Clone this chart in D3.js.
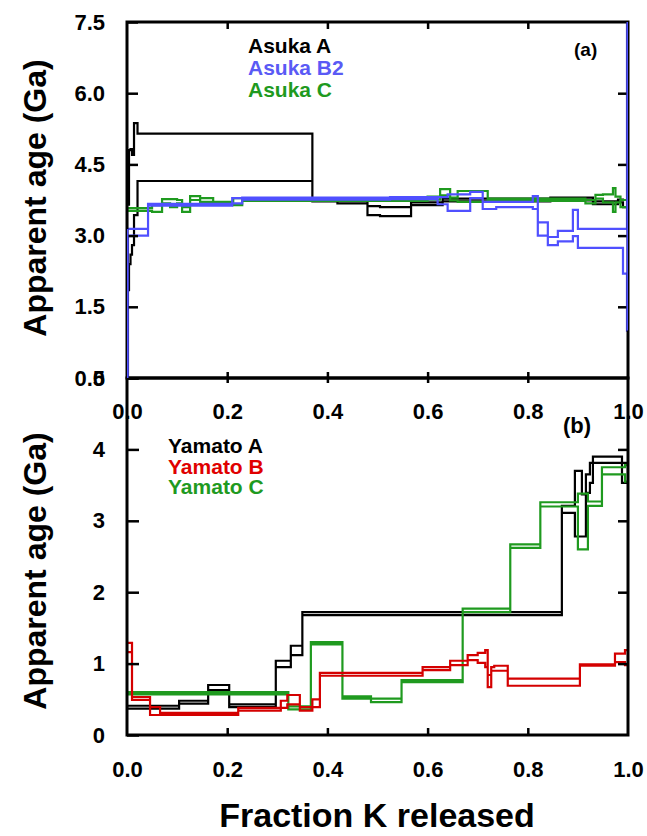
<!DOCTYPE html>
<html>
<head>
<meta charset="utf-8">
<script src="https://cdn.jsdelivr.net/npm/d3@7"></script>
<style>
  body { margin: 0; background: #fff; }
  svg { display: block; font-family: "Liberation Sans", Arial, sans-serif; font-weight: bold; }
</style>
</head>
<body>
<svg width="647" height="836"></svg>
<script>
// Each step: [fraction from, fraction to, age low (Ga), age high (Ga)]
const asukaA = [
  [0, 0.004, 1.85, 3.65], [0.004, 0.007, 2.4, 4.8], [0.007, 0.010, 2.6, 4.82],
  [0.010, 0.014, 2.8, 4.7], [0.014, 0.021, 3.43, 5.37],
  [0.021, 0.37, 4.15, 5.15], [0.37, 0.42, 3.72, 3.77], [0.42, 0.48, 3.68, 3.73],
  [0.48, 0.505, 3.43, 3.62], [0.505, 0.567, 3.41, 3.60], [0.567, 0.63, 3.64, 3.70],
  [0.63, 0.845, 3.72, 3.78], [0.845, 0.93, 3.74, 3.80], [0.93, 0.98, 3.66, 3.72],
  [0.98, 0.99, 3.70, 3.76], [0.99, 1.0, 3.60, 3.75]
];
const asukaB2 = [
  [0, 0.002, -0.5, 3.14], [0.002, 0.042, 3.00, 3.14], [0.042, 0.21, 3.63, 3.67],
  [0.21, 0.23, 3.68, 3.79], [0.23, 0.525, 3.76, 3.80], [0.525, 0.62, 3.77, 3.81],
  [0.62, 0.64, 3.66, 3.81], [0.64, 0.685, 3.52, 3.87], [0.685, 0.71, 3.79, 3.92],
  [0.71, 0.737, 3.56, 3.71], [0.737, 0.81, 3.60, 3.71], [0.81, 0.82, 3.56, 3.83],
  [0.82, 0.84, 3.00, 3.28], [0.84, 0.86, 2.80, 2.97], [0.86, 0.89, 2.88, 3.10],
  [0.89, 0.90, 2.99, 3.54], [0.90, 0.99, 2.74, 3.14], [0.99, 0.998, 2.20, 3.14],
  [0.998, 1.0, 1.00, 9.0]
];
const asukaC = [
  [0, 0.05, 3.52, 3.58], [0.05, 0.07, 3.50, 3.64], [0.07, 0.086, 3.68, 3.77],
  [0.086, 0.10, 3.60, 3.77], [0.10, 0.11, 3.68, 3.75], [0.11, 0.126, 3.50, 3.60],
  [0.126, 0.146, 3.75, 3.83], [0.146, 0.172, 3.71, 3.79], [0.172, 0.212, 3.66, 3.71],
  [0.212, 0.23, 3.64, 3.79], [0.23, 0.6, 3.73, 3.78], [0.6, 0.625, 3.76, 3.82],
  [0.625, 0.645, 3.85, 3.98], [0.645, 0.66, 3.74, 3.80], [0.66, 0.72, 3.71, 3.94],
  [0.72, 0.915, 3.73, 3.78], [0.915, 0.935, 3.68, 3.75], [0.935, 0.95, 3.78, 3.86],
  [0.95, 0.97, 3.70, 3.87], [0.97, 0.975, 3.50, 4.00], [0.975, 0.985, 3.70, 3.82],
  [0.985, 1.0, 3.60, 3.75]
];

const yamatoA = [
  [0, 0.104, 0.37, 0.41], [0.104, 0.162, 0.44, 0.48], [0.162, 0.204, 0.63, 0.70],
  [0.204, 0.297, 0.39, 0.43], [0.297, 0.327, 0.95, 1.04], [0.327, 0.35, 1.12, 1.25],
  [0.35, 0.868, 1.68, 1.72], [0.868, 0.894, 3.11, 3.21], [0.894, 0.908, 2.78, 3.70],
  [0.908, 0.916, 2.78, 3.37], [0.916, 0.924, 3.39, 3.65], [0.924, 0.93, 3.53, 3.81],
  [0.93, 0.988, 3.81, 3.90], [0.988, 1.0, 3.53, 3.81]
];
const yamatoB = [
  [0, 0.01, 1.16, 1.29], [0.01, 0.046, 0.49, 0.53], [0.046, 0.066, 0.28, 0.39],
  [0.066, 0.222, 0.28, 0.31], [0.222, 0.307, 0.34, 0.38], [0.307, 0.32, 0.38, 0.48],
  [0.32, 0.345, 0.43, 0.56], [0.345, 0.37, 0.34, 0.39], [0.37, 0.385, 0.39, 0.50],
  [0.385, 0.59, 0.83, 0.87], [0.59, 0.645, 0.91, 0.95], [0.645, 0.68, 0.98, 1.04],
  [0.68, 0.70, 1.05, 1.12], [0.70, 0.715, 1.01, 1.15], [0.715, 0.72, 0.95, 1.19],
  [0.72, 0.727, 0.67, 0.84], [0.727, 0.733, 0.90, 0.95], [0.733, 0.76, 0.90, 0.97],
  [0.76, 0.904, 0.69, 0.79], [0.904, 0.974, 0.97, 0.99], [0.974, 0.994, 1.02, 1.14],
  [0.994, 1.0, 0.98, 1.19]
];
const yamatoC = [
  [0, 0.322, 0.57, 0.60], [0.322, 0.367, 0.36, 0.40], [0.367, 0.43, 1.27, 1.30],
  [0.43, 0.487, 0.51, 0.54], [0.487, 0.548, 0.46, 0.51], [0.548, 0.67, 0.74, 0.77],
  [0.67, 0.765, 1.72, 1.77], [0.765, 0.825, 2.62, 2.67], [0.825, 0.90, 3.20, 3.26],
  [0.90, 0.92, 2.60, 3.38], [0.92, 0.948, 3.21, 3.27], [0.948, 0.994, 3.65, 3.75],
  [0.994, 1.0, 3.55, 3.78]
];

const xTicks = [0, 0.2, 0.4, 0.6, 0.8, 1.0];
const topYTicks = [0, 1.5, 3.0, 4.5, 6.0, 7.5];
const botYTicks = [0, 1, 2, 3, 4, 5];
const topLegend = ["Asuka A", "Asuka B2", "Asuka C"];
const botLegend = ["Yamato A", "Yamato B", "Yamato C"];

const BLACK = "#000000", BLUE = "#5050ff", GREEN = "#1f9a1f", RED = "#d40000";

const svg = d3.select("svg");
const left = 127, right = 628;
const topPanel = {top: 22, bottom: 378};
const botPanel = {top: 378, bottom: 735};

const x = d3.scaleLinear().domain([0, 1]).range([left, right]);
const yTop = d3.scaleLinear().domain([0, 7.5]).range([topPanel.bottom, topPanel.top]);
const yBot = d3.scaleLinear().domain([0, 5]).range([botPanel.bottom, botPanel.top]);

// clip regions
const defs = svg.append("defs");
defs.append("clipPath").attr("id", "clipTop").append("rect")
  .attr("x", left).attr("y", topPanel.top).attr("width", right - left).attr("height", topPanel.bottom - topPanel.top);
defs.append("clipPath").attr("id", "clipBot").append("rect")
  .attr("x", left).attr("y", botPanel.top).attr("width", right - left).attr("height", botPanel.bottom - botPanel.top);

// outline of an age spectrum: upper steps forward, lower steps back
function boxPath(steps, y) {
  const pts = [];
  steps.forEach(s => { pts.push([x(s[0]), y(s[3])], [x(s[1]), y(s[3])]); });
  for (let i = steps.length - 1; i >= 0; i--) {
    const s = steps[i];
    pts.push([x(s[1]), y(s[2])], [x(s[0]), y(s[2])]);
  }
  return d3.line()(pts) + "Z";
}

function drawSeries(g, steps, y, color) {
  g.append("path")
    .attr("d", boxPath(steps, y))
    .attr("fill", "none")
    .attr("stroke", color)
    .attr("stroke-width", 2.2)
    .attr("stroke-linejoin", "miter");
}

const fontTick = 22;

function styleAxis(g) {
  g.select(".domain").remove();
  g.selectAll("line").attr("stroke", "#000").attr("stroke-width", 2.5);
  g.selectAll("text").attr("font-size", fontTick).attr("font-weight", "bold")
    .attr("font-family", "'Liberation Sans', Arial, sans-serif").attr("fill", "#000");
}

// ---------- Panel (a) ----------
const gTopData = svg.append("g").attr("clip-path", "url(#clipTop)");
drawSeries(gTopData, asukaA, yTop, BLACK);
drawSeries(gTopData, asukaC, yTop, GREEN);
drawSeries(gTopData, asukaB2, yTop, BLUE);

// left y axis with labels
svg.append("g").attr("transform", `translate(${left},0)`)
  .call(d3.axisLeft(yTop).tickValues(topYTicks).tickSize(-11).tickPadding(22).tickFormat(d3.format(".1f")))
  .call(styleAxis);
// right ticks
svg.append("g").attr("transform", `translate(${right},0)`)
  .call(d3.axisRight(yTop).tickValues(topYTicks.slice(1, 5)).tickSize(-10).tickFormat(""))
  .call(styleAxis);
// top ticks
svg.append("g").attr("transform", `translate(0,${topPanel.top})`)
  .call(d3.axisTop(x).tickValues(xTicks.slice(1, 5)).tickSize(-7).tickFormat(""))
  .call(styleAxis);
// bottom axis of (a), labels sit inside panel (b)
const topX = svg.append("g").attr("transform", `translate(0,${topPanel.bottom})`)
  .call(d3.axisBottom(x).tickValues(xTicks).tickSize(-6).tickPadding(25).tickFormat(d3.format(".1f")))
  .call(styleAxis);
topX.selectAll("line").attr("y1", 5);
topX.selectAll(".tick").filter(d => d === 0 || d === 1).select("line").remove();

// ---------- Panel (b) ----------
const gBotData = svg.append("g").attr("clip-path", "url(#clipBot)");
drawSeries(gBotData, yamatoA, yBot, BLACK);
drawSeries(gBotData, yamatoC, yBot, GREEN);
drawSeries(gBotData, yamatoB, yBot, RED);

svg.append("g").attr("transform", `translate(${left},0)`)
  .call(d3.axisLeft(yBot).tickValues(botYTicks).tickSize(-12).tickPadding(22).tickFormat(d3.format("d")))
  .call(styleAxis);
svg.append("g").attr("transform", `translate(${right},0)`)
  .call(d3.axisRight(yBot).tickValues(botYTicks.slice(1, 5)).tickSize(-10).tickFormat(""))
  .call(styleAxis);
const botX = svg.append("g").attr("transform", `translate(0,${botPanel.bottom})`)
  .call(d3.axisBottom(x).tickValues(xTicks).tickSize(-7).tickPadding(26).tickFormat(d3.format(".1f")))
  .call(styleAxis);
botX.selectAll(".tick").filter(d => d === 0 || d === 1).select("line").remove();

// frames
const frame = svg.append("g").attr("fill", "none").attr("stroke", "#000").attr("stroke-width", 3);
frame.append("rect").attr("x", left).attr("y", topPanel.top)
  .attr("width", right - left).attr("height", topPanel.bottom - topPanel.top);
frame.append("rect").attr("x", left).attr("y", botPanel.top)
  .attr("width", right - left).attr("height", botPanel.bottom - botPanel.top);

// blue edge lines of Asuka B2 drawn over the frame
const gTopEdge = svg.append("g").attr("clip-path", "url(#clipTop)");
gTopEdge.append("line")
  .attr("x1", x(asukaB2[asukaB2.length - 1][1])).attr("x2", x(asukaB2[asukaB2.length - 1][1]))
  .attr("y1", yTop(asukaB2[asukaB2.length - 1][3])).attr("y2", yTop(asukaB2[asukaB2.length - 1][2]))
  .attr("stroke", BLUE).attr("stroke-width", 3);
gTopEdge.append("line")
  .attr("x1", x(asukaB2[0][0])).attr("x2", x(asukaB2[0][0]))
  .attr("y1", yTop(asukaB2[0][3])).attr("y2", yTop(0))
  .attr("stroke", BLUE).attr("stroke-width", 3);

// ---------- Legends and labels ----------
const topColors = [BLACK, "#5a5af5", GREEN];
topLegend.forEach((name, i) => {
  svg.append("text").attr("x", 248).attr("y", 53 + i * 22)
    .attr("font-size", 21).attr("fill", topColors[i]).text(name);
});
svg.append("text").attr("x", 574).attr("y", 56).attr("font-size", 19).text("(a)");

const botColors = [BLACK, "#e00000", GREEN];
botLegend.forEach((name, i) => {
  svg.append("text").attr("x", 168).attr("y", 453 + i * 20.5)
    .attr("font-size", 21).attr("fill", botColors[i]).text(name);
});
svg.append("text").attr("x", 563).attr("y", 433).attr("font-size", 22).text("(b)");

// axis titles
svg.append("text")
  .attr("transform", `translate(46,198) rotate(-90)`)
  .attr("text-anchor", "middle").attr("font-size", 32)
  .text("Apparent age (Ga)");
svg.append("text")
  .attr("transform", `translate(46,571) rotate(-90)`)
  .attr("text-anchor", "middle").attr("font-size", 32)
  .text("Apparent age (Ga)");
svg.append("text")
  .attr("x", 377).attr("y", 827)
  .attr("text-anchor", "middle").attr("font-size", 34)
  .text("Fraction K released");
</script>
</body>
</html>
